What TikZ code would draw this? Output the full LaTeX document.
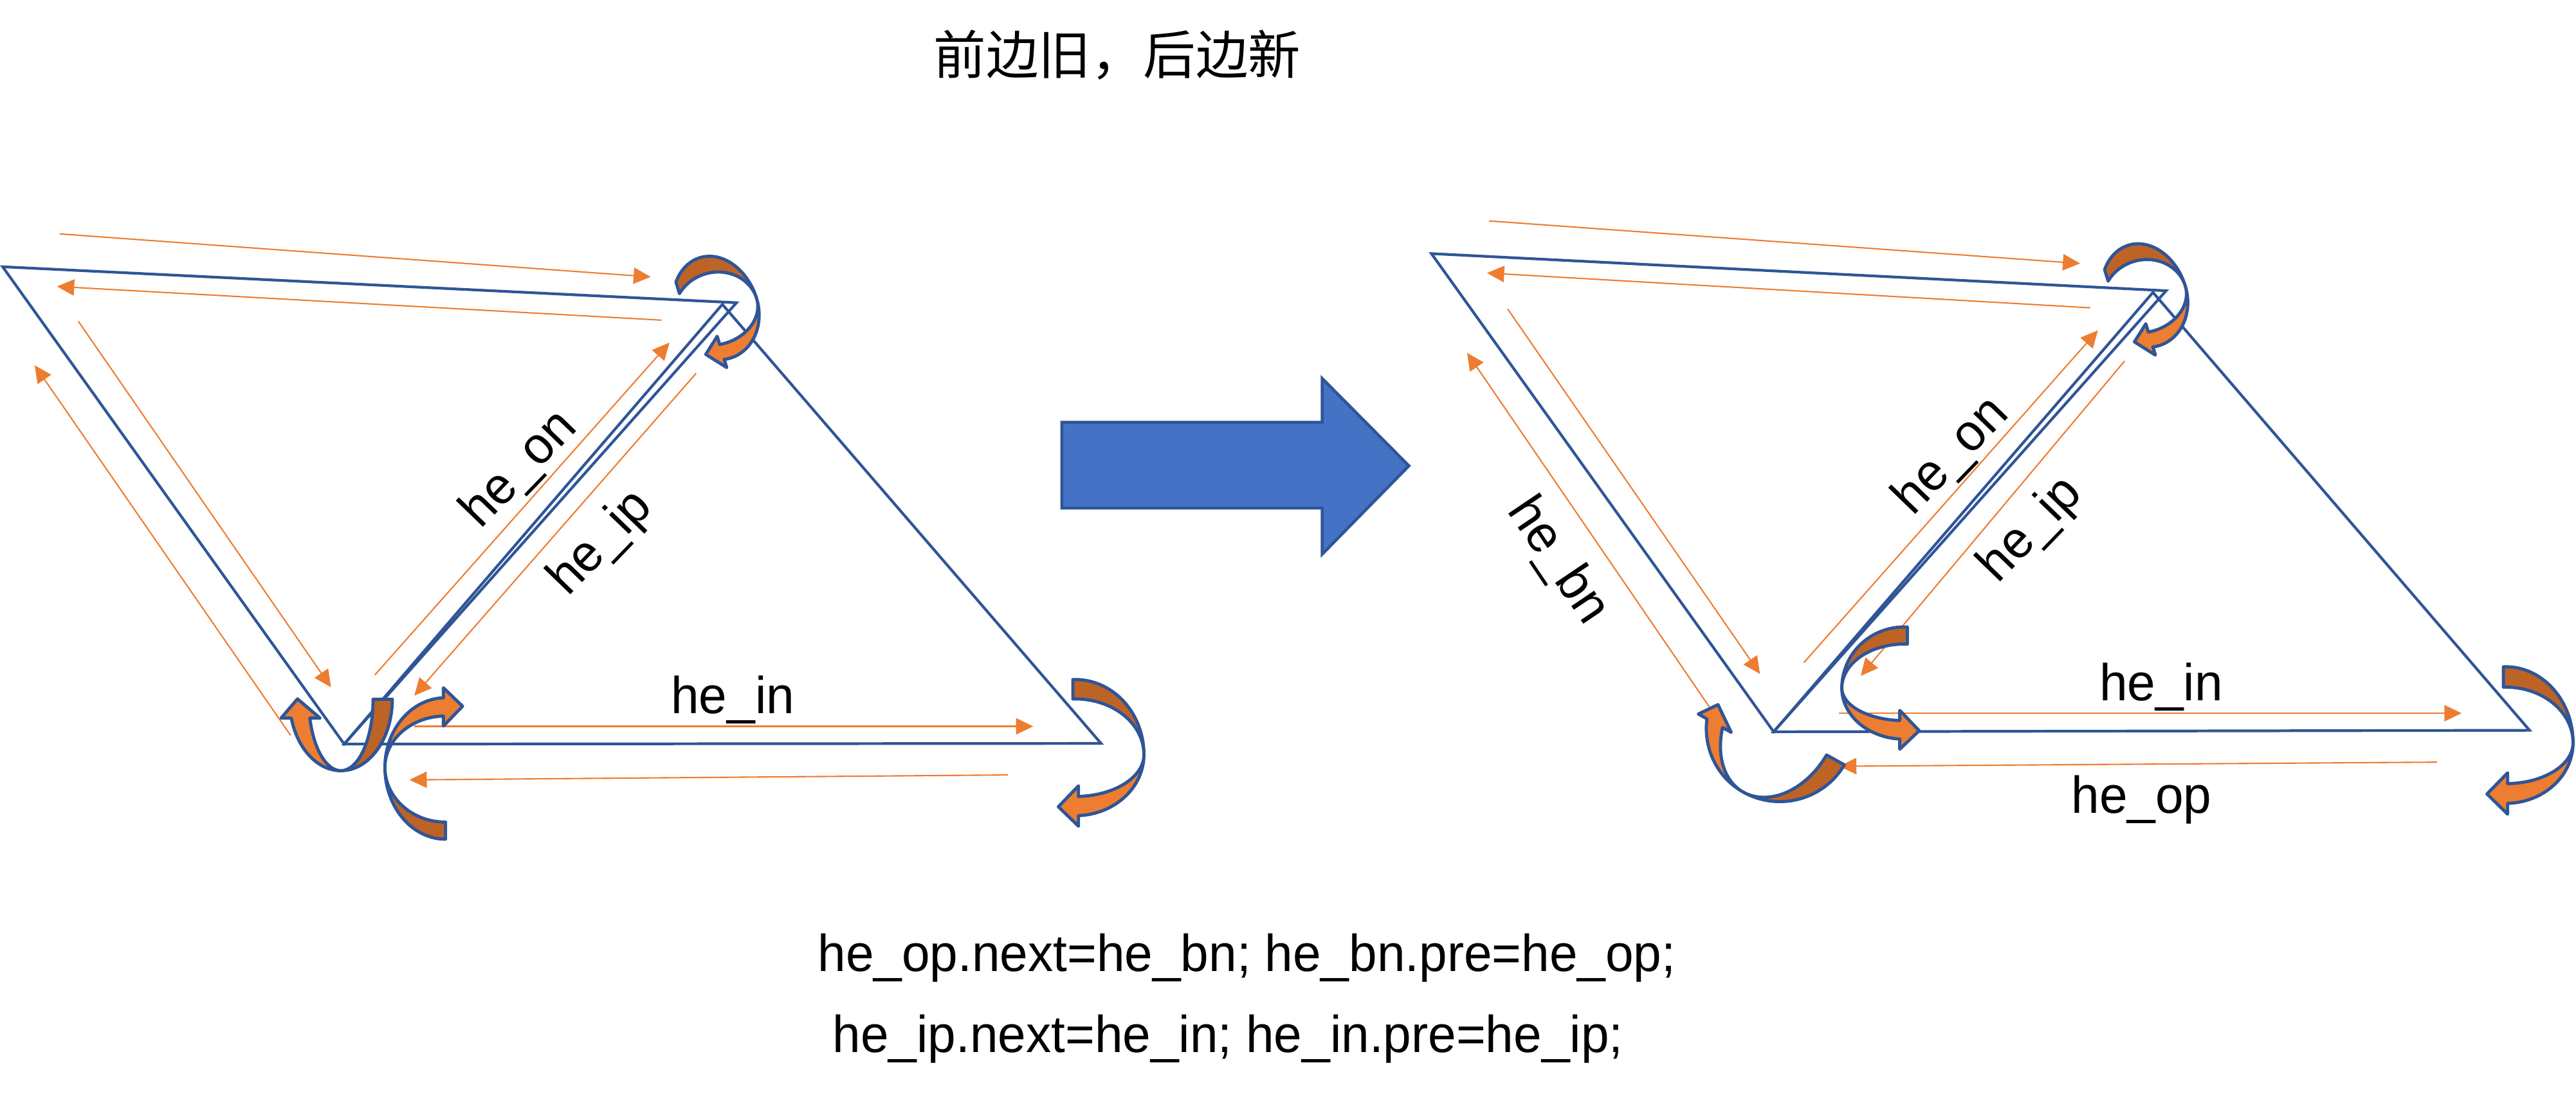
\documentclass[tikz,border=0pt]{standalone}
\usepackage{fontspec}
\setmainfont{Liberation Sans}[FakeStretch=0.97]
\newfontfamily\cjkfont{Noto Sans CJK SC}
\usepackage{xcolor}
\usepackage{tikz}
\usetikzlibrary{arrows.meta}

\definecolor{edgeblue}{RGB}{47,85,151}
\definecolor{fillblue}{RGB}{68,114,196}
\definecolor{flatorange}{RGB}{237,125,49}
\definecolor{rustbrown}{RGB}{190,99,38}

% centre, rotation, fold radius, back outer/inner, front outer/inner, tail angle, head angle
\newcommand{\foldarrow}[9]{%
  \pgfmathsetmacro{\fasg}{(#9>0) ? 1 : -1}%
  \pgfmathsetmacro{\fax}{#3*cos(#9)}%
  \pgfmathsetmacro{\fay}{(#6+#7)/2*sin(#9)}%
  \pgfmathsetmacro{\fad}{(#6-#7)/2*sin(#9)}%
  \pgfmathsetmacro{\fatx}{-#3*sin(#9)*\fasg}%
  \pgfmathsetmacro{\faty}{(#6+#7)/2*cos(#9)*\fasg}%
  \pgfmathsetmacro{\fatl}{2.1*abs(\fad)/veclen(\fatx,\faty)}%
  \begin{scope}[shift={#1}, rotate=#2]
    \filldraw[ribbon, fill=rustbrown] (#8:#3 and #4)
      arc[start angle=#8, end angle=0, x radius=#3, y radius=#4]
      arc[start angle=0, end angle=#8, x radius=#3, y radius=#5] -- cycle;
    \filldraw[ribbon, fill=flatorange] (#3,0)
      arc[start angle=0, end angle=#9, x radius=#3, y radius=#6]
      -- ({\fax},{\fay+2.1*(\fad)}) -- ({\fax+\fatl*(\fatx)},{\fay+\fatl*(\faty)})
      -- ({\fax},{\fay-2.1*(\fad)}) -- ({\fax},{\fay-(\fad)})
      arc[start angle=#9, end angle=0, x radius=#3, y radius=#7] -- cycle;
  \end{scope}}

\begin{document}
\begin{tikzpicture}[
    x=0.02554cm, y=-0.02554cm,
    heline/.style={draw=edgeblue, line width=1.2pt},
    hedge/.style={draw=flatorange, line width=0.6pt, -{Triangle[length=7.6pt, width=7.2pt]}},
    ribbon/.style={draw=edgeblue, line width=1.4pt, line join=round},
    lbl/.style={font=\fontsize{23}{28}\selectfont, inner sep=0pt}
]
\useasboundingbox (0,0) rectangle (1568,669);

% old mesh
\coordinate (lA) at (1.6,162.4);
\coordinate (lB) at (448.3,184.3);
\coordinate (lB2) at (439.7,185.3);
\coordinate (lC) at (209.5,453);
\coordinate (lD) at (670.2,452.6);
\draw[heline] (lA) -- (lB) -- (lC) -- cycle;
\draw[heline] (lB2) -- (lD) -- (lC) -- cycle;

\coordinate (l1s) at (36.4,142.4);   \coordinate (l1e) at (396.1,168.6);
\coordinate (l2s) at (402.6,194.9);  \coordinate (l2e) at (34.7,174.4);
\coordinate (l3s) at (176.9,447.7);  \coordinate (l3e) at (21.1,222.4);
\coordinate (l4s) at (47.7,195.6);   \coordinate (l4e) at (201.5,418.4);
\coordinate (l5s) at (228.2,410.9);  \coordinate (l5e) at (407.5,208.6);
\coordinate (l6s) at (423.7,227.3);  \coordinate (l6e) at (252.2,423.5);
\coordinate (l7s) at (252.2,442.2);  \coordinate (l7e) at (628.9,442.2);
\coordinate (l8s) at (613.4,471.8);  \coordinate (l8e) at (249.3,474.8);
\foreach \i in {1,...,8}
  \draw[hedge] (l\i s) -- (l\i e);

\foldarrow{(435.9,189.3)}{17}{25.8}{33.9}{23.5}{30.0}{20.4}{-135}{98.7}
\foldarrow{(207.5,425.7)}{-90}{43.5}{31.3}{19.6}{31.3}{19.6}{-90}{74.7}
\foldarrow{(271.2,467.2)}{180}{36.9}{43.7}{33.3}{42.4}{31.3}{-90}{88}
\foldarrow{(654.5,459.4)}{0}{41.8}{45.7}{33.9}{37.2}{25.5}{-92}{87.3}

\node[lbl, rotate=46] (lon) at (316.5,286) {he\_on};
\node[lbl, rotate=46] (lip) at (366,331) {he\_ip};
\node[lbl, anchor=base] (lin) at (446,434.2) {he\_in};

% big arrow
\draw[edgeblue, fill=fillblue, line width=1.3pt] (646.3,257.1) -- (804.8,257.1) -- (804.8,230.4)
  -- (857.6,283.6) -- (804.8,337.4) -- (804.8,309.3) -- (646.3,309.3) -- cycle;

% new mesh
\coordinate (rA) at (871.3,154.4);
\coordinate (rB) at (1318.5,177);
\coordinate (rB2) at (1310.5,178);
\coordinate (rC) at (1079.6,445.5);
\coordinate (rD) at (1539.7,444.6);
\draw[heline] (rA) -- (rB) -- (rC) -- cycle;
\draw[heline] (rB2) -- (rD) -- (rC) -- cycle;

\coordinate (r1s) at (906.4,134.5);   \coordinate (r1e) at (1266.1,160.4);
\coordinate (r2s) at (1272.4,187.4);  \coordinate (r2e) at (905.1,166.2);
\coordinate (r3s) at (1041.5,431.9);  \coordinate (r3e) at (893,214.8);
\coordinate (r4s) at (917.7,188.1);   \coordinate (r4e) at (1071.3,410.3);
\coordinate (r5s) at (1098,403.4);    \coordinate (r5e) at (1277,201.1);
\coordinate (r6s) at (1293.2,219.8);  \coordinate (r6e) at (1132.6,411.5);
\coordinate (r7s) at (1119.4,434.2);  \coordinate (r7e) at (1498.3,434.2);
\coordinate (r8s) at (1483.4,464);    \coordinate (r8e) at (1119.5,466.5);
\foreach \i in {1,...,8}
  \draw[hedge] (r\i s) -- (r\i e);

\foldarrow{(1305.5,181.7)}{17}{25.8}{33.9}{23.5}{30.0}{20.4}{-135}{98.7}
\foldarrow{(1159.0,418.9)}{180}{37.9}{37.2}{26.8}{31.1}{19.8}{93}{-86}
\foldarrow{(1083.3,442.4)}{-119.1}{45.6}{45.7}{33.3}{44.4}{32.6}{-88.5}{67.6}
\foldarrow{(1525.1,452.2)}{0}{41.1}{46.3}{33.9}{36.9}{24.9}{-91.8}{88.2}

\node[lbl, rotate=46] (ron) at (1188,278) {he\_on};
\node[lbl, rotate=46] (rip) at (1236.6,322.9) {he\_ip};
\node[lbl, rotate=-56] (rbn) at (948,341.6) {he\_bn};
\node[lbl, anchor=base] (rin) at (1315.5,426.4) {he\_in};
\node[lbl, anchor=base] (rop) at (1303.5,495) {he\_op};

\node[lbl, font=\cjkfont\fontsize{23.2}{28}\selectfont] (title) at (680.1,33.5) {前边旧，后边新};
\node[lbl, anchor=base west] (rule1) at (497.5,591.5) {he\_op.next=he\_bn; he\_bn.pre=he\_op;};
\node[lbl, anchor=base west] (rule2) at (506.5,640.8) {he\_ip.next=he\_in; he\_in.pre=he\_ip;};
\end{tikzpicture}
\end{document}
